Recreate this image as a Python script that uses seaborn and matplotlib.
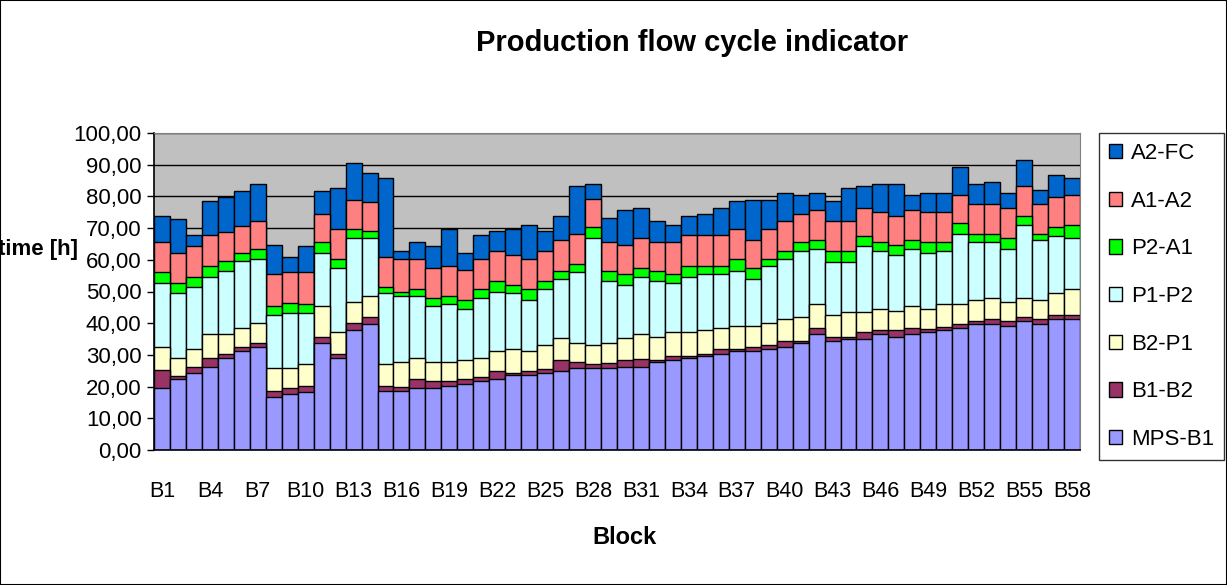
import numpy as np
import pandas as pd
import seaborn as sns
import matplotlib.pyplot as plt
from matplotlib.patches import Patch, Rectangle

# data (hours per stage, 58 blocks)
blocks = ['B%d' % i for i in range(1, 59)]

mps_b1 = [19.7, 22.3, 24.2, 26.3, 28.9, 31.1, 32.4, 16.8, 17.6, 18.2,
          33.7, 28.9, 37.9, 39.8, 18.7, 18.7, 19.6, 19.6, 20.2, 20.9,
          21.7, 22.3, 23.6, 23.6, 24.2, 24.8, 25.8, 25.8, 25.8, 26.3,
          26.3, 27.7, 28.4, 29.1, 29.8, 30.4, 31.2, 31.2, 31.8, 32.4,
          33.7, 36.5, 34.4, 35.1, 35.1, 36.5, 35.8, 36.5, 37.2, 37.7,
          38.5, 39.8, 39.8, 39.2, 40.6, 39.8, 41.3, 41.3]
b1_b2 = [5.4, 1.2, 2.0, 2.8, 1.3, 1.3, 1.3, 1.9, 2.0, 2.0,
         2.1, 1.4, 2.1, 2.1, 1.5, 1.3, 2.7, 2.1, 1.5, 1.4,
         1.4, 2.5, 0.6, 1.2, 1.4, 3.6, 1.9, 1.3, 1.8, 2.1,
         2.5, 0.7, 1.3, 0.7, 0.6, 1.4, 0.6, 1.2, 1.3, 2.0,
         0.8, 2.0, 1.4, 0.7, 2.1, 1.4, 1.9, 2.0, 1.1, 1.2,
         1.3, 0.8, 1.5, 1.4, 1.3, 1.5, 1.2, 1.2]
b2_p1 = [7.4, 5.6, 5.6, 7.4, 6.3, 6.1, 6.3, 7.1, 6.2, 6.9,
         9.5, 6.9, 6.6, 6.8, 6.9, 7.7, 6.8, 6.0, 6.0, 6.1,
         6.0, 6.4, 7.6, 6.4, 7.5, 6.8, 6.0, 6.0, 6.1, 6.8,
         7.7, 7.4, 7.5, 7.4, 7.5, 6.7, 7.4, 6.8, 6.9, 6.9,
         7.4, 7.5, 6.7, 7.6, 6.2, 6.7, 6.3, 6.8, 6.3, 7.1,
         6.2, 6.8, 6.7, 6.1, 6.1, 6.1, 7.0, 8.2]
p1_p2 = [20.2, 20.4, 19.6, 18.2, 20.1, 21.0, 20.2, 16.7, 17.5, 16.2,
         16.8, 20.2, 20.2, 18.1, 22.4, 20.9, 19.5, 17.6, 18.3, 16.2,
         18.8, 18.8, 17.7, 16.2, 17.6, 18.7, 22.3, 33.7, 19.6, 16.8,
         18.2, 17.5, 15.4, 17.5, 17.5, 16.9, 17.4, 14.7, 18.2, 18.9,
         20.8, 17.4, 16.8, 15.9, 20.8, 18.1, 17.5, 18.1, 17.5, 16.7,
         22.2, 18.2, 17.6, 16.7, 22.9, 18.8, 18.1, 16.1]
p2_a1 = [3.4, 3.1, 3.3, 3.5, 2.9, 2.8, 3.2, 2.8, 3.2, 2.7,
         3.4, 2.8, 2.9, 2.3, 1.9, 1.4, 2.1, 2.6, 2.7, 2.6,
         2.8, 3.3, 2.5, 3.3, 2.6, 2.7, 2.7, 3.5, 3.3, 3.4,
         2.7, 3.3, 2.8, 3.2, 2.5, 2.5, 3.6, 3.5, 2.0, 2.5,
         2.9, 2.8, 3.4, 3.4, 3.4, 2.9, 3.3, 2.8, 3.4, 2.8,
         3.4, 2.6, 2.6, 3.4, 2.8, 2.0, 2.7, 4.1]
a1_a2 = [9.6, 9.5, 9.5, 9.5, 9.4, 8.5, 8.8, 10.2, 9.5, 10.0,
         8.8, 9.5, 9.2, 9.2, 9.5, 10.2, 9.5, 9.5, 9.5, 9.5,
         9.5, 9.4, 9.5, 9.5, 9.4, 9.6, 9.5, 8.9, 9.0, 9.4,
         9.4, 9.0, 10.2, 9.8, 9.8, 9.8, 9.5, 8.8, 9.5, 9.5,
         8.7, 9.5, 9.5, 9.5, 8.7, 9.5, 8.9, 9.5, 9.6, 9.6,
         8.8, 9.5, 9.5, 9.5, 9.5, 9.5, 9.5, 9.5]
a2_fc = [8.1, 10.8, 3.5, 10.7, 10.9, 11.0, 11.7, 9.3, 4.9, 8.2,
         7.5, 12.9, 11.6, 9.1, 24.9, 2.6, 5.3, 6.8, 11.5, 5.4,
         7.5, 6.4, 8.2, 10.7, 6.4, 7.5, 15.0, 4.7, 7.5, 11.0,
         9.5, 6.7, 5.3, 6.0, 6.6, 8.6, 8.7, 12.7, 9.2, 8.9,
         6.1, 5.4, 6.2, 10.4, 6.9, 8.8, 10.2, 4.7, 6.0, 6.0,
         8.9, 6.2, 6.9, 4.8, 8.2, 4.2, 6.8, 5.5]

stages = ['MPS-B1', 'B1-B2', 'B2-P1', 'P1-P2', 'P2-A1', 'A1-A2', 'A2-FC']
colors = ['#9999FF', '#993366', '#FFFFCC', '#CCFFFF', '#00FF00', '#FF8080', '#0066CC']

df = pd.DataFrame({'Block': blocks, 'MPS-B1': mps_b1, 'B1-B2': b1_b2,
                   'B2-P1': b2_p1, 'P1-P2': p1_p2, 'P2-A1': p2_a1,
                   'A1-A2': a1_a2, 'A2-FC': a2_fc})
cum = df[stages].cumsum(axis=1)

sns.set_style('white')
plt.rcParams['font.family'] = ['Liberation Sans', 'DejaVu Sans']
plt.rcParams['text.color'] = 'black'
plt.rcParams['xtick.color'] = 'black'
plt.rcParams['ytick.color'] = 'black'

fig = plt.figure(figsize=(12.27, 5.85), dpi=100)
ax = fig.add_axes([154 / 1227, 1 - 450 / 585, 926 / 1227, 317 / 585])
ax.set_facecolor('#C0C0C0')

# stacked bars: draw the cumulative totals from the top stage down
for st, c in reversed(list(zip(stages, colors))):
    sns.barplot(x=df['Block'], y=cum[st], color=c, saturation=1, width=1.0,
                edgecolor='black', linewidth=1, ax=ax, order=blocks)

ax.set_ylim(0, 100)
ax.set_xlim(-0.5, len(blocks) - 0.5)
yt = np.arange(0, 101, 10)
ax.set_yticks(yt)
ax.set_yticklabels(['%d,00' % v for v in yt], fontsize=16)
ax.yaxis.grid(True, color='black', linewidth=1)
ax.set_axisbelow(True)

ax.set_xticks(range(0, len(blocks), 3))
ax.set_xticklabels(blocks[::3], fontsize=15.5)
ax.set_xticks(np.arange(-0.5, len(blocks), 1), minor=True)
ax.tick_params(axis='x', which='major', length=0, pad=22)
ax.tick_params(axis='x', which='minor', length=5, color='black', width=1)
ax.tick_params(axis='y', length=5, color='black', width=1, left=True, pad=4)

ax.set_xlabel('')
ax.set_ylabel('')
for s in ['top', 'right']:
    ax.spines[s].set_color('#808080')
for s in ['left', 'bottom']:
    ax.spines[s].set_color('black')
    ax.spines[s].set_linewidth(1.2)

fig.text(692 / 1227, 1 - 43 / 585, 'Production flow cycle indicator',
         ha='center', va='center', fontsize=21, fontweight='bold')
fig.text(625 / 1227, 1 - 537 / 585, 'Block', ha='center', va='center',
         fontsize=17, fontweight='bold')
fig.text(-2 / 1227, 1 - 250 / 585, 'time [h]', ha='left', va='center',
         fontsize=16, fontweight='bold')

handles = [Patch(facecolor=c, edgecolor='black', label=s)
           for s, c in reversed(list(zip(stages, colors)))]
leg = fig.legend(handles=handles, loc='upper left',
                 bbox_to_anchor=(1099 / 1227, 1 - 133 / 585),
                 fontsize=16, frameon=True, fancybox=False, edgecolor='black',
                 handlelength=0.6, handleheight=0.6, handletextpad=0.4,
                 labelspacing=1.2, borderpad=0.45, borderaxespad=0)
leg.get_frame().set_linewidth(1)

fig.patches.append(Rectangle((0, 0), 1, 1, transform=fig.transFigure,
                             fill=False, edgecolor='black', linewidth=1.5))

fig.savefig('out.png', dpi=100)
